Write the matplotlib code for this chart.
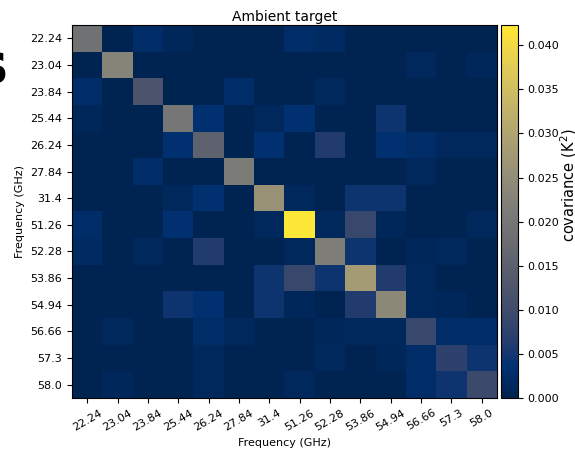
import numpy as np
import matplotlib
matplotlib.use("Agg")
import matplotlib.pyplot as plt

# channel frequencies (GHz)
freqs = ["22.24", "23.04", "23.84", "25.44", "26.24", "27.84", "31.4",
         "51.26", "52.28", "53.86", "54.94", "56.66", "57.3", "58.0"]

# diagonal variances (K^2)
variances = [0.019, 0.023, 0.012, 0.020, 0.0155, 0.021, 0.026,
             0.0423, 0.0215, 0.028, 0.024, 0.009, 0.0075, 0.0095]

# upper triangle off-diagonal covariances, row by row (K^2)
upper = [
    [0.0005, 0.0025, 0.0012, 0.0005, 0.0005, 0.0005, 0.0025, 0.002, 0.0005, 0.0005, 0.0005, 0.0005, 0.0005],
    [0.0005, 0.0005, 0.0005, 0.0005, 0.0005, 0.0005, 0.0005, 0.0005, 0.0005, 0.0015, 0.0005, 0.0012],
    [0.0005, 0.0005, 0.0025, 0.0005, 0.0005, 0.0015, 0.0005, 0.0005, 0.0005, 0.0005, 0.0005],
    [0.0035, 0.0005, 0.0015, 0.0035, 0.0005, 0.0005, 0.0045, 0.0005, 0.0005, 0.0005],
    [0.0005, 0.0035, 0.0005, 0.006, 0.0005, 0.0035, 0.0025, 0.0015, 0.0015],
    [0.0005, 0.0005, 0.0005, 0.0005, 0.0005, 0.0015, 0.0005, 0.0005],
    [0.0015, 0.0005, 0.0045, 0.0045, 0.0005, 0.0005, 0.0005],
    [0.0015, 0.009, 0.0012, 0.0005, 0.0005, 0.0015],
    [0.0045, 0.0005, 0.0012, 0.0015, 0.0005],
    [0.006, 0.0015, 0.0005, 0.0005],
    [0.0015, 0.0012, 0.0005],
    [0.0025, 0.0025],
    [0.0045],
]

n = len(freqs)
cov = np.diag(variances)
for i, row in enumerate(upper):
    for k, v in enumerate(row):
        j = i + 1 + k
        cov[i, j] = v
        cov[j, i] = v

fig = plt.figure(figsize=(5.75, 4.49), dpi=100)
ax = fig.add_axes([72 / 575, 1 - 398 / 449, 425 / 575, 373 / 449])
cax = fig.add_axes([501 / 575, 1 - 398 / 449, 17 / 575, 373 / 449])

im = ax.imshow(cov, cmap="cividis", vmin=0, vmax=cov.max(), aspect="auto",
               interpolation="nearest")
ax.set_xticks(range(n))
ax.set_yticks(range(n))
ax.set_xticklabels(freqs, rotation=30, fontsize=8)
ax.set_yticklabels(freqs, fontsize=8)
ax.set_xlabel("Frequency (GHz)", fontsize=8)
ax.set_ylabel("Frequency (GHz)", fontsize=8)
ax.set_title("Ambient target", fontsize=10, pad=3)

cb = fig.colorbar(im, cax=cax)
cb.set_ticks([0, 0.005, 0.01, 0.015, 0.02, 0.025, 0.03, 0.035, 0.04])
cb.ax.tick_params(labelsize=8, pad=3)
cb.ax.set_ylabel(r"covariance (K$\mathregular{^2}$)", fontsize=10.5,
                 labelpad=0, y=0.57)

# clipped heading from the neighbouring panel
fig.text(7 / 575, 1 - 82 / 449, "s", fontsize=40, fontweight="bold",
         ha="right", va="baseline")

fig.savefig("out.png", dpi=100)
